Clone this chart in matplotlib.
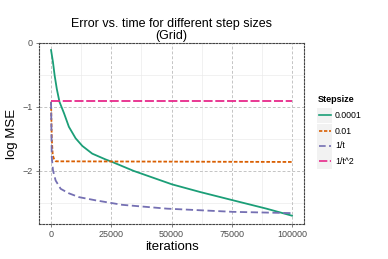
import matplotlib
matplotlib.use("Agg")
import matplotlib.pyplot as plt
from matplotlib.lines import Line2D
from matplotlib.patches import Rectangle

plt.rcParams['font.family'] = ['Liberation Sans', 'DejaVu Sans']

# Data
green_x = [0, 800, 1500, 2400, 3500, 5400, 7400, 10200, 13000, 17100, 22600, 25400,
           34300, 50200, 61900, 75600, 89400, 100000]
green_y = [-0.11, -0.30, -0.51, -0.72, -0.92, -1.10, -1.31, -1.49, -1.61, -1.73, -1.82, -1.86,
           -2.0, -2.21, -2.33, -2.46, -2.59, -2.70]

orange_x = [0, 300, 700, 1200, 2000, 100000]
orange_y = [-0.92, -1.5, -1.75, -1.81, -1.85, -1.86]

purple_x = [0, 300, 800, 1900, 4000, 7400, 11600, 18500, 29500, 48100, 75600, 100000]
purple_y = [-0.92, -1.78, -1.99, -2.15, -2.28, -2.35, -2.41, -2.46, -2.53, -2.59, -2.64, -2.66]

pink_x = [0, 100000]
pink_y = [-0.91, -0.91]

series_labels = ['0.0001', '0.01', '1/t', '1/t^2']
colors = ['#1B9E77', '#D95F02', '#7570B3', '#E7298A']
x_ticks = [0, 25000, 50000, 75000, 100000]
y_ticks = [0, -1, -2]

W, H = 388, 259
fig = plt.figure(figsize=(W / 100, H / 100), dpi=100)
fig.patch.set_facecolor('white')
ax = fig.add_axes([39 / W, (H - 224) / H, 265 / W, 181 / H])

# grid
for xv in [12500, 37500, 62500, 87500]:
    ax.axvline(xv, color='#EBEBEB', lw=0.5, zorder=0)
for yv in [-0.5, -1.5, -2.5]:
    ax.axhline(yv, color='#EBEBEB', lw=0.5, zorder=0)
for xv in x_ticks:
    ax.axvline(xv, color='#C4C4C4', lw=0.7, ls=(0, (3, 2)), zorder=0)
for yv in y_ticks:
    ax.axhline(yv, color='#C4C4C4', lw=0.7, ls=(0, (3, 2)), zorder=0)

lw = 1.3
ax.plot(green_x, green_y, color=colors[0], lw=lw, ls='-', zorder=3)
ax.plot(orange_x, orange_y, color=colors[1], lw=lw, ls=(0, (2, 1)), zorder=3)
ax.plot(purple_x, purple_y, color=colors[2], lw=lw, ls=(0, (4, 2)), zorder=3)
ax.plot(pink_x, pink_y, color=colors[3], lw=lw, ls=(0, (5, 1.5)), zorder=3)

ax.set_xlim(-5000, 105000)
ax.set_ylim(-2.83, 0.0)
ax.set_xticks(x_ticks)
ax.set_xticklabels([str(v) for v in x_ticks])
ax.set_yticks(y_ticks)
ax.set_yticklabels(['0', '\u22121', '\u22122'])
ax.tick_params(axis='both', labelsize=6.5, colors='#4D4D4D', length=2.5, width=0.5, pad=2)

for sp in ax.spines.values():
    sp.set_linestyle((0, (1.5, 1.5)))
    sp.set_color('#444444')
    sp.set_linewidth(0.8)

ax.set_xlabel('iterations', fontsize=9.5, labelpad=1)
ax.set_ylabel('log MSE', fontsize=9.5, labelpad=3)
ax.set_title('Error vs. time for different step sizes\n(Grid)', fontsize=9,
             linespacing=0.95, pad=3)

# legend (manual, ggplot-like)
fig.text(318 / W, 1 - 100 / H, 'Stepsize', fontsize=6.5, fontweight='bold',
         va='center', ha='left')
styles = ['-', (0, (2, 1)), (0, (4, 2)), (0, (5, 1.5))]
rows = [115, 131, 146, 161]
for lab, col, st, ry in zip(series_labels, colors, styles, rows):
    fig.patches.append(Rectangle((317 / W, 1 - (ry + 7.5) / H), 15 / W, 15 / H,
                                 transform=fig.transFigure, facecolor='#F2F2F2',
                                 edgecolor='none'))
    fig.lines.append(Line2D([318.5 / W, 330.5 / W], [1 - ry / H, 1 - ry / H],
                            transform=fig.transFigure, color=col, lw=1.2, ls=st))
    fig.text(335 / W, 1 - ry / H, lab, fontsize=6.3, va='center', ha='left')

fig.savefig('out.png', dpi=100)
